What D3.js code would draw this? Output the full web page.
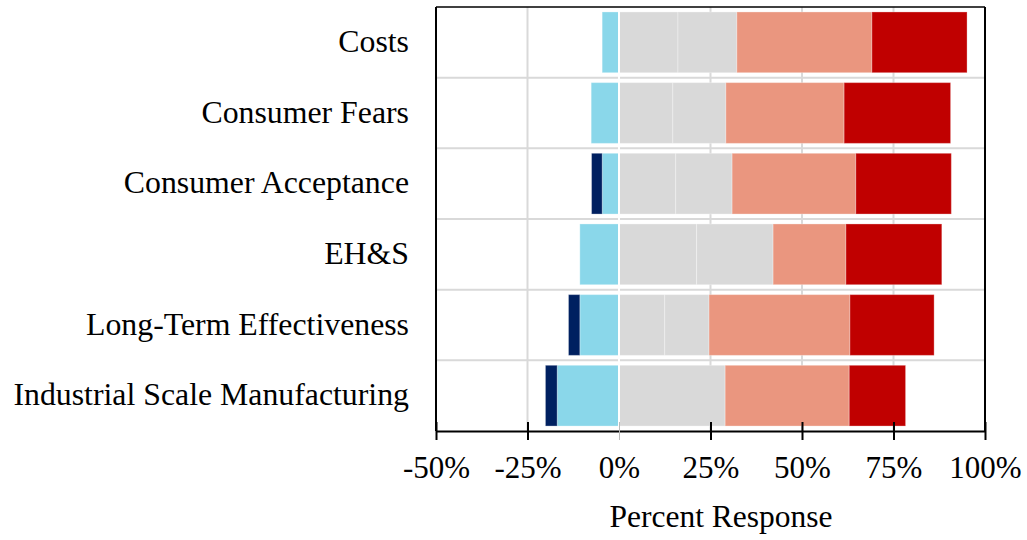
<!DOCTYPE html>
<html>
<head>
<meta charset="utf-8">
<script src="https://cdn.jsdelivr.net/npm/d3@7"></script>
<style>
  html, body { margin: 0; padding: 0; background: #fff; }
  svg { display: block; }
  text { font-family: "Liberation Serif", "Times New Roman", serif; fill: #000; }
</style>
</head>
<body>
<svg id="chart" width="1027" height="540"></svg>
<script>
// ---- Data ----
const categories = ["Costs", "Consumer Fears", "Consumer Acceptance", "EH&S", "Long-Term Effectiveness", "Industrial Scale Manufacturing"];
const stronglyNegative = [0, 0, 2.9, 0, 3.1, 3.2];
const negative         = [4.6, 7.6, 4.6, 10.7, 10.7, 16.9];
const neutralA         = [16.1, 14.7, 15.5, 21.2, 12.5, 29.0];
const neutralB         = [16.1, 14.5, 15.4, 20.9, 12.1, 0];
const positive         = [36.9, 32.3, 33.8, 19.9, 38.5, 33.9];
const stronglyPositive = [26.0, 29.1, 26.1, 26.2, 23.0, 15.4];
const tickValues = [-50, -25, 0, 25, 50, 75, 100];
const tickLabels = ["-50%", "-25%", "0%", "25%", "50%", "75%", "100%"];
const xTitle = "Percent Response";

const colors = {
  stronglyNegative: "#002060",
  negative: "#8ad7ea",
  neutral: "#d9d9d9",
  positive: "#ea967f",
  stronglyPositive: "#c00000"
};

(function () {
// ---- Layout ----
const svg = d3.select("#chart");
const pL = 436, pT = 7, pR = 985, pB = 431;
const x = d3.scaleLinear().domain([-50, 100]).range([pL, pR]);
const y = d3.scaleBand().domain(categories).range([pT, pB]).paddingInner(0.14).paddingOuter(0.07);

// Build segments
const segs = [];
categories.forEach((c, i) => {
  let n0 = 0;
  segs.push({c, k: "negative", a: n0 - negative[i], b: n0}); n0 -= negative[i];
  segs.push({c, k: "stronglyNegative", a: n0 - stronglyNegative[i], b: n0});
  let p0 = 0;
  segs.push({c, k: "neutral", a: p0, b: p0 + neutralA[i]}); p0 += neutralA[i];
  segs.push({c, k: "neutral", a: p0, b: p0 + neutralB[i]}); p0 += neutralB[i];
  segs.push({c, k: "positive", a: p0, b: p0 + positive[i]}); p0 += positive[i];
  segs.push({c, k: "stronglyPositive", a: p0, b: p0 + stronglyPositive[i]});
});

// Gridlines (vertical)
svg.append("g").selectAll("line").data(tickValues.filter(v => v !== 0 && v !== -50 && v !== 100)).join("line")
  .attr("x1", d => x(d)).attr("x2", d => x(d))
  .attr("y1", pT).attr("y2", pB)
  .attr("stroke", "#d9d9d9").attr("stroke-width", 2);

// Gridlines (horizontal, between bands)
const boundaries = d3.range(1, categories.length).map(i => pT + i * (pB - pT) / categories.length);
svg.append("g").selectAll("line").data(boundaries).join("line")
  .attr("x1", pL).attr("x2", pR)
  .attr("y1", d => d).attr("y2", d => d)
  .attr("stroke", "#d9d9d9").attr("stroke-width", 2);

// Bars
svg.append("g").selectAll("rect").data(segs.filter(s => s.b - s.a > 0)).join("rect")
  .attr("x", d => x(d.a))
  .attr("width", d => x(d.b) - x(d.a))
  .attr("y", d => y(d.c))
  .attr("height", y.bandwidth())
  .attr("fill", d => colors[d.k])
  .attr("stroke", "#ffffff").attr("stroke-opacity", 0.3).attr("stroke-width", 1);

// Zero line (white)
svg.append("line")
  .attr("x1", x(0)).attr("x2", x(0))
  .attr("y1", pT).attr("y2", pB + 8)
  .attr("stroke", "#ffffff").attr("stroke-width", 2);

// Frame
svg.append("line").attr("x1", pL).attr("x2", pR).attr("y1", pT).attr("y2", pT)
  .attr("stroke", "#000").attr("stroke-width", 1.5);
svg.append("line").attr("x1", pL).attr("x2", pL).attr("y1", pT).attr("y2", pB)
  .attr("stroke", "#000").attr("stroke-width", 2);
svg.append("line").attr("x1", pR).attr("x2", pR).attr("y1", pT).attr("y2", pB)
  .attr("stroke", "#000").attr("stroke-width", 2);

// X axis
const xAxis = d3.axisBottom(x).tickValues(tickValues).tickFormat((d, i) => tickLabels[i]).tickSizeInner(9).tickSizeOuter(0);
const gx = svg.append("g").attr("transform", `translate(0,${pB})`).call(xAxis);
gx.select(".domain").attr("stroke", "#000").attr("stroke-width", 2);
gx.selectAll(".tick line").attr("stroke", "#000").attr("stroke-width", 2).attr("y1", -9);
gx.selectAll(".tick").filter(d => d === 0).select("line").attr("stroke", "#bbb").attr("stroke-width", 1);
gx.selectAll(".tick text").attr("y", 47).attr("dy", null)
  .style("font-family", "'Liberation Serif', 'Times New Roman', serif").style("font-size", "31px").attr("fill", "#000");

// X title
svg.append("text").attr("x", 721).attr("y", 527).attr("text-anchor", "middle")
  .style("font-size", "31.5px").text(xTitle);

// Y labels
svg.append("g").selectAll("text").data(categories).join("text")
  .attr("x", 409).attr("y", d => y(d) + y.bandwidth() / 2 + 9.5)
  .attr("text-anchor", "end")
  .style("font-size", "31.8px").text(d => d);
})();
</script>
</body>
</html>
